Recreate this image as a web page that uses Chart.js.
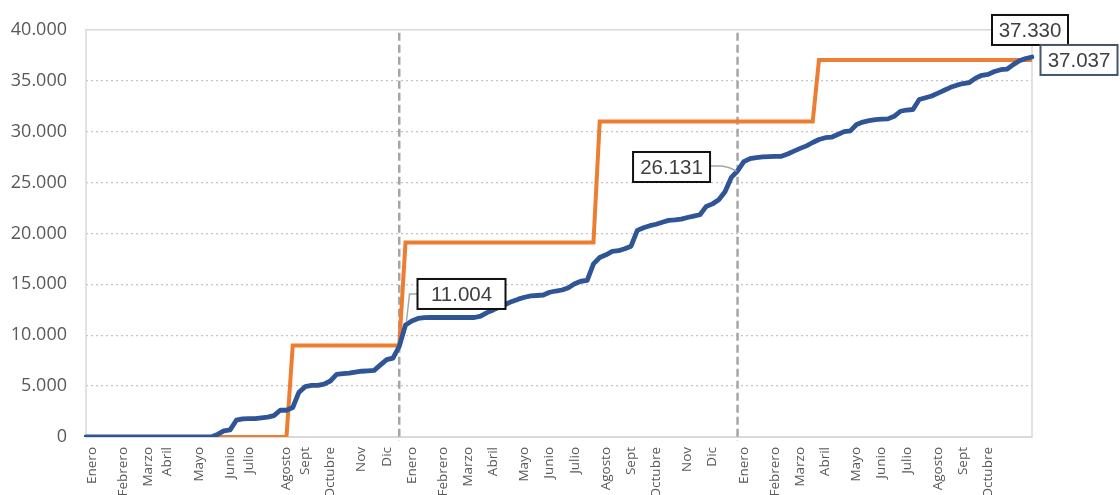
<!DOCTYPE html>
<html lang="es">
<head>
<meta charset="utf-8">
<title>Acumulado semanal</title>
<script src="https://cdn.jsdelivr.net/npm/chart.js@4.4.1/dist/chart.umd.min.js"></script>
<style>
    html, body { margin: 0; padding: 0; background: #ffffff; }
    #contenedor { width: 1120px; height: 495px; }
</style>
</head>
<body>
<div id="contenedor"><canvas id="acumuladoChart" width="1120" height="495"></canvas></div>
<script>

/* DATOS */

const meses = ['Enero', 'Febrero', 'Marzo', 'Abril', 'Mayo', 'Junio', 'Julio', 'Agosto', 'Sept', 'Octubre', 'Nov', 'Dic'];

// semana donde se escribe cada mes (tres años seguidos)
const semanasMes = [1, 6, 10, 13, 18, 23, 26, 32, 35, 39, 44, 48,
                    52, 57, 61, 65, 70, 74, 78, 83, 87, 91, 96, 100,
                    105, 110, 114, 118, 123, 127, 131, 136, 140, 144];

// acumulado real, una cifra por semana
const realAcumulado = [
    0, 0, 0, 0, 0, 0, 0, 0, 0, 0,
    0, 0, 0, 0, 0, 0, 0, 0, 0, 0,
    0, 250, 600, 700, 1650, 1780, 1800, 1810, 1880, 1960,
    2100, 2630, 2630, 2900, 4400, 4950, 5070, 5070, 5200, 5500,
    6150, 6230, 6270, 6380, 6460, 6500, 6550, 7080, 7600, 7750,
    8900, 11004, 11400, 11650, 11730, 11740, 11740, 11740, 11740, 11740,
    11740, 11740, 11740, 11880, 12220, 12480, 12770, 13040, 13320, 13540,
    13730, 13860, 13900, 13950, 14220, 14340, 14440, 14660, 15050, 15300,
    15380, 17000, 17630, 17900, 18240, 18300, 18500, 18740, 20300, 20560,
    20760, 20900, 21100, 21280, 21330, 21400, 21560, 21700, 21830, 22650,
    22900, 23300, 24100, 25500, 26131, 27050, 27350, 27450, 27520, 27540,
    27560, 27580, 27800, 28080, 28350, 28600, 28930, 29220, 29400, 29450,
    29720, 30000, 30070, 30700, 30940, 31070, 31180, 31220, 31250, 31500,
    32000, 32120, 32170, 33150, 33330, 33500, 33780, 34060, 34350, 34560,
    34720, 34820, 35250, 35530, 35620, 35900, 36080, 36130, 36580, 36960,
    37180, 37330
];

// meta acumulada, escalones
const metaAcumulada = [
    0, 0, 0, 0, 0, 0, 0, 0, 0, 0,
    0, 0, 0, 0, 0, 0, 0, 0, 0, 0,
    0, 0, 0, 0, 0, 0, 0, 0, 0, 0,
    0, 0, 0, 9000, 9000, 9000, 9000, 9000, 9000, 9000,
    9000, 9000, 9000, 9000, 9000, 9000, 9000, 9000, 9000, 9000,
    9000, 19100, 19100, 19100, 19100, 19100, 19100, 19100, 19100, 19100,
    19100, 19100, 19100, 19100, 19100, 19100, 19100, 19100, 19100, 19100,
    19100, 19100, 19100, 19100, 19100, 19100, 19100, 19100, 19100, 19100,
    19100, 19100, 31000, 31000, 31000, 31000, 31000, 31000, 31000, 31000,
    31000, 31000, 31000, 31000, 31000, 31000, 31000, 31000, 31000, 31000,
    31000, 31000, 31000, 31000, 31000, 31000, 31000, 31000, 31000, 31000,
    31000, 31000, 31000, 31000, 31000, 31000, 31000, 37037, 37037, 37037,
    37037, 37037, 37037, 37037, 37037, 37037, 37037, 37037, 37037, 37037,
    37037, 37037, 37037, 37037, 37037, 37037, 37037, 37037, 37037, 37037,
    37037, 37037, 37037, 37037, 37037, 37037, 37037, 37037, 37037, 37037,
    37037, 37037
];

// cambio de año (semana)
const cortesAnio = [50, 104];

const ticksY = [0, 5000, 10000, 15000, 20000, 25000, 30000, 35000, 40000];

/* ETIQUETAS DEL EJE X */

const etiquetasSemana = realAcumulado.map(() => '');

semanasMes.forEach((semana, i) => {
    etiquetasSemana[semana] = meses[i % 12];
});

function formatoMiles(v){
    return String(Math.round(v)).replace(/\B(?=(\d{3})+(?!\d))/g, '.');
}

/* CUADROS DE VALOR */

const cuadros = [
    { serie: 0, semana: 51, dx: 56, dy: -31, ancho: 88, borde: '#111111', guia: 'arriba' },
    { serie: 0, semana: 104, dx: -66, dy: -4, ancho: 77, borde: '#111111', guia: 'izquierda' },
    { serie: 0, semana: 151, dx: -2, dy: -27, ancho: 76, borde: '#111111', guia: null },
    { serie: 1, semana: 151, dx: 47, dy: 0, ancho: 77, borde: '#44546a', guia: null }
];

const marcoPlugin = {
    id: 'marco',
    beforeDatasetsDraw(chart){
        const { ctx, chartArea: a, scales: { x } } = chart;
        ctx.save();

        // marco del area
        ctx.strokeStyle = '#d9d9d9';
        ctx.lineWidth = 1.5;
        ctx.strokeRect(a.left, a.top, a.right - a.left, a.bottom - a.top);
        ctx.lineWidth = 2;
        ctx.beginPath();
        ctx.moveTo(a.left, a.bottom);
        ctx.lineTo(a.right, a.bottom);
        ctx.stroke();

        // lineas de cambio de año
        ctx.strokeStyle = '#a6a6a6';
        ctx.lineWidth = 2.5;
        ctx.setLineDash([8, 4]);
        cortesAnio.forEach(s => {
            const px = x.getPixelForValue(s);
            ctx.beginPath();
            ctx.moveTo(px, a.top + 3);
            ctx.lineTo(px, a.bottom + 4);
            ctx.stroke();
        });
        ctx.restore();
    },
    afterDatasetsDraw(chart){
        const { ctx, scales: { x, y } } = chart;
        ctx.save();
        cuadros.forEach(c => {
            const valor = chart.data.datasets[c.serie].data[c.semana];
            const px = x.getPixelForValue(c.semana);
            const py = y.getPixelForValue(valor);
            const alto = 30;
            const cx = px + c.dx;
            const cy = py + c.dy;
            const izq = cx - c.ancho / 2;
            const der = cx + c.ancho / 2;

            // linea guia
            ctx.strokeStyle = '#a6a6a6';
            ctx.lineWidth = 1.5;
            ctx.setLineDash([]);
            if (c.guia === 'arriba'){
                ctx.beginPath();
                ctx.moveTo(px + 1, py - 4);
                ctx.lineTo(px + 4, cy);
                ctx.lineTo(izq, cy);
                ctx.stroke();
            }
            if (c.guia === 'izquierda'){
                ctx.beginPath();
                ctx.moveTo(der, cy - 1);
                ctx.lineTo(der + 12, cy - 1);
                ctx.quadraticCurveTo(px - 8, cy, px - 1, py);
                ctx.stroke();
            }

            // cuadro
            ctx.fillStyle = '#ffffff';
            ctx.fillRect(izq, cy - alto / 2, c.ancho, alto);
            ctx.strokeStyle = c.borde;
            ctx.lineWidth = 2;
            ctx.strokeRect(izq, cy - alto / 2, c.ancho, alto);

            ctx.fillStyle = '#404040';
            ctx.font = '20.5px "Liberation Sans", Arial, sans-serif';
            ctx.textAlign = 'center';
            ctx.textBaseline = 'middle';
            ctx.fillText(formatoMiles(valor), cx, cy + 1);
        });
        ctx.restore();
    }
};

/* GRAFICO ACUMULADO */

new Chart(document.getElementById('acumuladoChart'), {
    type: 'line',
    data: {
        labels: etiquetasSemana,
        datasets: [{
            label: 'Real',
            data: realAcumulado,
            borderColor: '#2f5597',
            borderWidth: 4.8,
            pointRadius: 0,
            tension: 0,
            borderJoinStyle: 'round',
            borderCapStyle: 'round',
            fill: false
        }, {
            label: 'Meta',
            data: metaAcumulada,
            borderColor: '#ed7d31',
            borderWidth: 4,
            pointRadius: 0,
            tension: 0,
            borderJoinStyle: 'miter',
            fill: false
        }]
    },
    options: {
        responsive: false,
        animation: false,
        layout: { padding: { left: 0, right: 88, top: 27, bottom: 0 } },
        plugins: {
            legend: { display: false },
            tooltip: { enabled: false }
        },
        scales: {
            x: {
                offset: false,
                grid: { display: false, drawTicks: false },
                border: { display: false },
                ticks: {
                    autoSkip: false,
                    minRotation: 90,
                    maxRotation: 90,
                    padding: 10,
                    color: '#595959',
                    font: { family: '"Open Sans", sans-serif', size: 13.5 }
                },
                afterFit: (scale) => { scale.height = 58; }
            },
            y: {
                min: 0,
                max: 40000,
                afterBuildTicks: (scale) => {
                    scale.ticks = ticksY.map(v => ({ value: v }));
                },
                grid: {
                    drawTicks: false,
                    lineWidth: 1.3,
                    color: (c) => (c.tick && (c.tick.value === 0 || c.tick.value === 40000)) ? 'rgba(0,0,0,0)' : '#c4c4c4'
                },
                border: { display: false, dash: [2, 3] },
                ticks: {
                    padding: 19,
                    color: '#595959',
                    font: { family: '"Open Sans", sans-serif', size: 18 },
                    callback: (v) => formatoMiles(v)
                },
                afterFit: (scale) => { scale.width = 86; }
            }
        }
    },
    plugins: [marcoPlugin]
});

</script>
</body>
</html>
